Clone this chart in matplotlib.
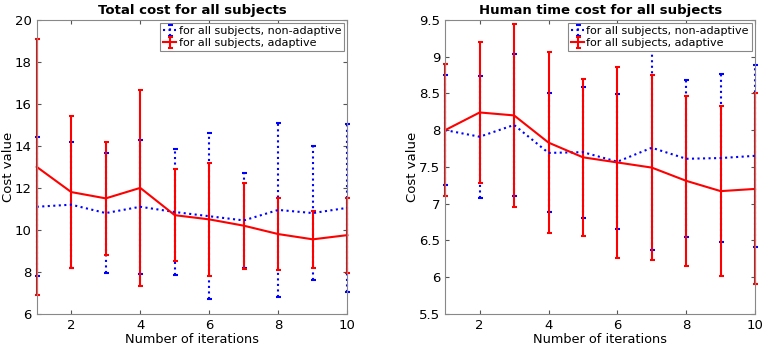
import matplotlib
matplotlib.use('Agg')
import matplotlib.pyplot as plt
import numpy as np

# data
iterations = np.arange(1, 11)

total_nonadaptive = [11.1, 11.2, 10.8, 11.1, 10.85, 10.65, 10.45, 10.95, 10.8, 11.05]
total_nonadaptive_err = [3.3, 3.0, 2.85, 3.2, 3.0, 3.95, 2.25, 4.15, 3.2, 4.0]
total_adaptive = [13.0, 11.8, 11.5, 12.0, 10.7, 10.5, 10.2, 9.8, 9.55, 9.75]
total_adaptive_err = [6.1, 3.6, 2.7, 4.65, 2.2, 2.68, 2.05, 1.7, 1.37, 1.78]

human_nonadaptive = [8.0, 7.91, 8.07, 7.69, 7.70, 7.57, 7.76, 7.61, 7.62, 7.65]
human_nonadaptive_err = [0.75, 0.83, 0.97, 0.81, 0.89, 0.92, 1.39, 1.07, 1.14, 1.24]
human_adaptive = [8.0, 8.24, 8.2, 7.83, 7.63, 7.56, 7.49, 7.31, 7.17, 7.2]
human_adaptive_err = [0.9, 0.96, 1.24, 1.23, 1.07, 1.3, 1.26, 1.16, 1.16, 1.3]

titles = ['Total cost for all subjects', 'Human time cost for all subjects']
ylims = [(6, 20), (5.5, 9.5)]
yticks = [np.arange(6, 21, 2), np.arange(5.5, 9.6, 0.5)]
ytick_labels = [[str(v) for v in range(6, 21, 2)],
                ['5.5', '6', '6.5', '7', '7.5', '8', '8.5', '9', '9.5']]

fig = plt.figure(figsize=(7.65, 3.48), dpi=100)
ax1 = fig.add_axes([0.048, 0.098, 0.406, 0.845])
ax2 = fig.add_axes([0.582, 0.098, 0.405, 0.845])

panels = [
    (ax1, total_nonadaptive, total_nonadaptive_err, total_adaptive, total_adaptive_err),
    (ax2, human_nonadaptive, human_nonadaptive_err, human_adaptive, human_adaptive_err),
]


def no_clip(container):
    # 误差棒在边界处也要完整画出来
    for child in container.get_children():
        child.set_clip_on(False)


for i, (ax, na, na_err, ad, ad_err) in enumerate(panels):
    eb1 = ax.errorbar(iterations, na, yerr=na_err, color='#0000ff', linestyle=':',
                      linewidth=1.5, elinewidth=1.5, capsize=1.8, capthick=1.5,
                      label='for all subjects, non-adaptive')
    eb1[-1][0].set_linestyle(':')
    no_clip(eb1)
    eb2 = ax.errorbar(iterations, ad, yerr=ad_err, color='#ff0000', linestyle='-',
                      linewidth=1.5, elinewidth=1.5, capsize=1.8, capthick=1.5,
                      label='for all subjects, adaptive')
    no_clip(eb2)

    ax.set_xlim(1, 10)
    ax.set_ylim(*ylims[i])
    ax.set_xticks([2, 4, 6, 8, 10])
    ax.set_yticks(yticks[i])
    ax.set_yticklabels(ytick_labels[i])
    ax.tick_params(direction='in', top=True, right=True, labelsize=9.5, length=3,
                   color='#555555')
    for sp in ax.spines.values():
        sp.set_color('#888888')
    ax.set_title(titles[i], fontsize=9.5, fontweight='bold', pad=4)
    ax.set_xlabel('Number of iterations', fontsize=9.3, labelpad=1)
    ax.set_ylabel('Cost value', fontsize=9.5, labelpad=0)
    leg = ax.legend(loc='upper right', fontsize=8, fancybox=False, framealpha=1,
                    borderpad=0.25, labelspacing=0.2, handlelength=1.2,
                    handletextpad=0.2, borderaxespad=0.3)
    leg.get_frame().set_edgecolor('#888888')
    leg.get_frame().set_linewidth(0.8)

fig.savefig('out.png', dpi=100)
